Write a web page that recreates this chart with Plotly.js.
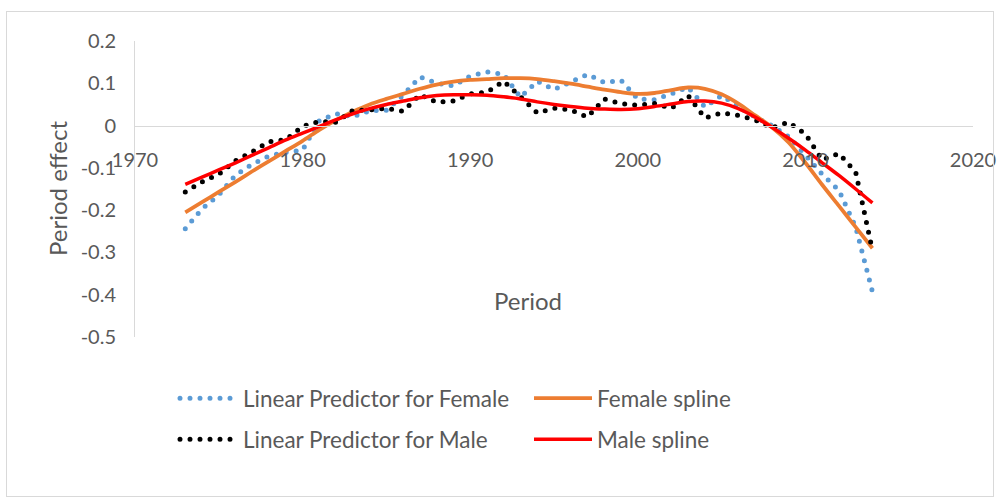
<!DOCTYPE html>
<html>
<head>
<meta charset="utf-8">
<script src="https://cdn.plot.ly/plotly-3.0.1.min.js"></script>
<style>
  html, body { margin: 0; padding: 0; background: #fff; }
  #frame { position: absolute; left: 6px; top: 11px; width: 986px; height: 484px; border: 1px solid #d9d9d9; pointer-events: none; }
  #chart { position: absolute; left: 0; top: 0; width: 1000px; height: 498px; }
  .dotted .js-line { stroke-linecap: round !important; }
</style>
</head>
<body>
<div id="chart"></div>
<div id="frame"></div>
<script>
const years = [1973,1974,1975,1976,1977,1978,1979,1980,1981,1982,1983,1984,1985,1986,1987,1988,1989,1990,1991,1992,1993,1994,1995,1996,1997,1998,1999,2000,2001,2002,2003,2004,2005,2006,2007,2008,2009,2010,2011,2012,2013,2014];

const femaleLP = [-0.244,-0.197,-0.164,-0.117,-0.091,-0.072,-0.063,-0.058,0.012,0.028,0.021,0.035,0.036,0.072,0.115,0.100,0.094,0.117,0.127,0.121,0.067,0.105,0.085,0.103,0.121,0.102,0.107,0.063,0.061,0.075,0.091,0.044,0.071,0.045,0.020,0.000,-0.026,-0.070,-0.115,-0.153,-0.240,-0.393];

const femaleSpline = [-0.205,-0.181,-0.157,-0.133,-0.108,-0.084,-0.060,-0.036,-0.010,0.013,0.033,0.050,0.063,0.075,0.087,0.097,0.104,0.108,0.110,0.112,0.112,0.110,0.105,0.099,0.092,0.085,0.079,0.075,0.077,0.084,0.090,0.087,0.074,0.052,0.024,-0.004,-0.040,-0.088,-0.140,-0.190,-0.240,-0.290];

const maleLP = [-0.157,-0.133,-0.115,-0.083,-0.062,-0.038,-0.033,-0.002,0.010,0.008,0.036,0.037,0.041,0.034,0.073,0.055,0.058,0.075,0.079,0.105,0.068,0.030,0.041,0.037,0.020,0.063,0.052,0.048,0.052,0.041,0.071,0.018,0.030,0.024,0.013,-0.005,0.008,-0.020,-0.081,-0.066,-0.110,-0.295];

const maleSpline = [-0.139,-0.122,-0.105,-0.088,-0.070,-0.052,-0.034,-0.018,-0.002,0.014,0.028,0.040,0.050,0.058,0.066,0.071,0.073,0.073,0.072,0.068,0.063,0.056,0.050,0.045,0.041,0.039,0.038,0.040,0.045,0.051,0.057,0.058,0.053,0.040,0.020,-0.004,-0.030,-0.058,-0.088,-0.118,-0.150,-0.183];

const xTickVals = [1970,1980,1990,2000,2010,2020];
const yTickVals = [0.2,0.1,0,-0.1,-0.2,-0.3,-0.4,-0.5];
const yTickLabels = ['0.2','0.1','0','-0.1','-0.2','-0.3','-0.4','-0.5'];

const seriesNames = ['Linear Predictor for Female','Female spline','Linear Predictor for Male','Male spline'];
const xTitle = 'Period';
const yTitle = 'Period effect';

const FONT = 'Lato, "Open Sans", sans-serif';
const GREY = '#595959';

const traces = [
  {x: years, y: femaleLP, name: seriesNames[0], type: 'scatter', mode: 'lines', legend: 'legend',
   line: {color: '#5B9BD5', width: 5, dash: '0px,10px'}},
  {x: years, y: femaleSpline, name: seriesNames[1], type: 'scatter', mode: 'lines', legend: 'legend2',
   line: {color: '#ED7D31', width: 3.8, shape: 'spline', smoothing: 0.8}},
  {x: years, y: maleLP, name: seriesNames[2], type: 'scatter', mode: 'lines', legend: 'legend3',
   line: {color: '#000000', width: 5, dash: '0px,10px'}},
  {x: years, y: maleSpline, name: seriesNames[3], type: 'scatter', mode: 'lines', legend: 'legend4',
   line: {color: '#FF0000', width: 3.5, shape: 'spline', smoothing: 0.8}}
];

const legendCommon = {
  orientation: 'v', xref: 'container', yref: 'container', xanchor: 'left', yanchor: 'top',
  font: {family: FONT, size: 22.5, color: GREY},
  itemwidth: 58, bgcolor: 'rgba(0,0,0,0)'
};
const col1 = 0.175, col2 = 0.529, row1 = 1 - 377 / 498, row2 = 1 - 418 / 498;

const layout = {
  width: 1000, height: 498,
  margin: {l: 135, r: 27, t: 41, b: 161, autoexpand: false},
  paper_bgcolor: 'rgba(0,0,0,0)', plot_bgcolor: 'rgba(0,0,0,0)',
  font: {family: FONT, color: GREY, size: 20},
  showlegend: true,
  xaxis: {
    range: [1970, 2020], tickvals: xTickVals, ticks: '',
    anchor: 'free', position: 0.5 / 0.7,
    showline: true, linecolor: '#d9d9d9', linewidth: 1,
    showgrid: false, zeroline: false,
    tickfont: {family: FONT, size: 20, color: GREY},
    ticklabelstandoff: 16
  },
  yaxis: {
    range: [-0.5, 0.2], tickvals: yTickVals, ticktext: yTickLabels, ticks: '',
    showline: true, linecolor: '#d9d9d9', linewidth: 1,
    showgrid: false, zeroline: false,
    tickfont: {family: FONT, size: 20, color: GREY},
    ticklabelstandoff: 14
  },
  legend: Object.assign({}, legendCommon, {x: col1, y: row1}),
  legend2: Object.assign({}, legendCommon, {x: col2, y: row1}),
  legend3: Object.assign({}, legendCommon, {x: col1, y: row2}),
  legend4: Object.assign({}, legendCommon, {x: col2, y: row2}),
  annotations: [
    {text: xTitle, xref: 'paper', yref: 'paper', x: (528 - 135) / 838, y: (337 - 300) / 296,
     xanchor: 'center', yanchor: 'middle', showarrow: false,
     font: {family: FONT, size: 24, color: GREY}},
    {text: yTitle, xref: 'paper', yref: 'paper', x: (57 - 135) / 838, y: (337 - 189) / 296,
     xanchor: 'center', yanchor: 'middle', showarrow: false, textangle: -90,
     font: {family: FONT, size: 24, color: GREY}}
  ]
};

Plotly.newPlot('chart', traces, layout, {displayModeBar: false, staticPlot: true}).then(function (gd) {
  gd.querySelectorAll('.scatterlayer .trace').forEach(function (t, i) {
    if (i === 0 || i === 2) t.classList.add('dotted');
  });
  gd.querySelectorAll('.legendlines').forEach(function (g) {
    const p = g.querySelector('path');
    if (p && p.style.strokeDasharray && p.style.strokeDasharray.indexOf('0') === 0) g.classList.add('dotted');
  });
});
</script>
</body>
</html>
